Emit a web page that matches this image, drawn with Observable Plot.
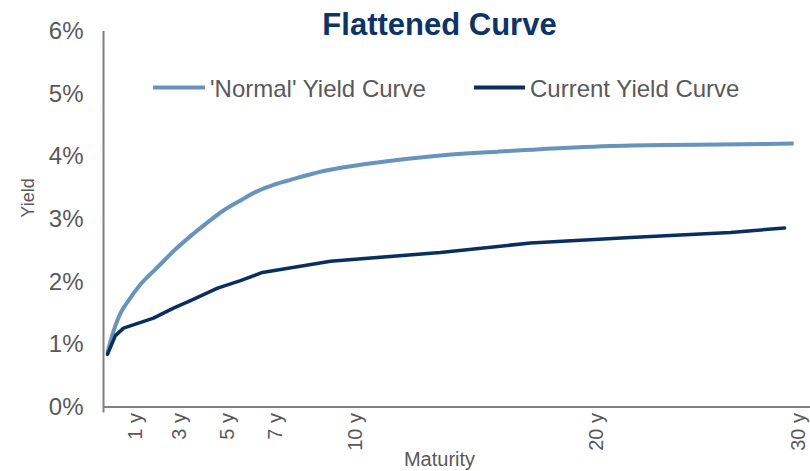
<!DOCTYPE html>
<html>
<head>
<meta charset="utf-8">
<script src="https://cdn.jsdelivr.net/npm/d3@7"></script>
<script src="https://cdn.jsdelivr.net/npm/@observablehq/plot@0.6"></script>
<style>
  html, body { margin: 0; padding: 0; background: #fff; }
  #wrap { position: relative; width: 810px; height: 471px; overflow: hidden; font-family: "Liberation Sans", Arial, sans-serif; }
  #wrap > svg { position: absolute; left: 0; top: 0; }
  #overlay { pointer-events: none; }
</style>
</head>
<body>
<div id="wrap"></div>
<script>
// ---- Data ----
const chartTitle = "Flattened Curve";
const seriesNames = ["'Normal' Yield Curve", "Current Yield Curve"];
const xLabel = "Maturity";
const yLabel = "Yield";

// 'Normal' yield curve: maturity (years) and yield (%)
const normalYears  = [0.17, 0.34, 0.51, 0.73, 1.07, 1.59, 2.31, 3.00, 3.73, 4.46, 5.14, 5.87, 6.60, 7.29, 8.02, 9.43, 11.57, 14.44, 16.89, 19.72, 22.59, 25.46, 29.58];
const normalYields = [0.86, 1.10, 1.30, 1.50, 1.70, 1.96, 2.23, 2.49, 2.73, 2.95, 3.14, 3.30, 3.45, 3.55, 3.63, 3.77, 3.90, 4.02, 4.08, 4.14, 4.18, 4.19, 4.21];

// Current yield curve
const currentYears  = [0.17, 0.51, 0.86, 2.14, 3.0, 3.73, 4.89, 5.87, 6.81, 9.73, 14.44, 18.30, 22.59, 26.87, 29.19];
const currentYields = [0.84, 1.14, 1.26, 1.42, 1.58, 1.70, 1.90, 2.02, 2.15, 2.33, 2.47, 2.62, 2.71, 2.79, 2.86];

// x tick labels and where they sit on the maturity axis (as drawn in the reference)
const xTickLabels = ["1 y", "3 y", "5 y", "7 y", "10 y", "20 y", "30 y"];
const xTickYears  = [1.37, 3.26, 5.31, 7.37, 10.8, 21.13, 29.8];
const yTicks = [0, 1, 2, 3, 4, 5, 6];
const xDomainMax = 30.3;
const yDomainMax = 6;

const colors = ["#6793BC", "#0A2F5F"];
const titleColor = "#0E3466";
const textColor = "#595959";
const axisColor = "#808080";

const normal = normalYears.map((t, i) => ({t, y: normalYields[i]}));
const current = currentYears.map((t, i) => ({t, y: currentYields[i]}));

const W = 810, H = 471;
const mL = 103, mR = 0, mT = 31, mB = 64.5;

const chart = Plot.plot({
  width: W, height: H,
  marginLeft: mL, marginRight: mR, marginTop: mT, marginBottom: mB,
  x: {domain: [0, xDomainMax]},
  y: {domain: [0, yDomainMax]},
  style: {fontFamily: "'Liberation Sans', Arial, sans-serif", color: textColor, background: "transparent", overflow: "visible"},
  marks: [
    Plot.axisY({ticks: yTicks, tickFormat: d => d + "%", tickSize: 0, tickPadding: 20, fontSize: 24, label: null, fill: textColor}),
    Plot.axisX({ticks: [0], tickSize: 6, tickFormat: () => "", label: null, stroke: axisColor, strokeWidth: 2}),
    Plot.axisX({ticks: xTickYears, tickFormat: d => xTickLabels[xTickYears.indexOf(d)], tickSize: 0, tickPadding: 6, tickRotate: -90, fontSize: 20, label: null, fill: textColor}),
    Plot.ruleX([0], {stroke: axisColor, strokeWidth: 2}),
    Plot.ruleY([0], {stroke: axisColor, strokeWidth: 2}),
    Plot.line(normal, {x: "t", y: "y", stroke: colors[0], strokeWidth: 4, curve: "monotone-x", strokeLinecap: "butt"}),
    Plot.line(current, {x: "t", y: "y", stroke: colors[1], strokeWidth: 3.5, curve: "linear"})
  ]
});
document.getElementById("wrap").appendChild(chart);

// ---- Overlay: title, legend, axis titles ----
const ov = d3.select("#wrap").append("svg")
  .attr("id", "overlay")
  .attr("width", W).attr("height", H)
  .attr("font-family", "'Liberation Sans', Arial, sans-serif");

ov.append("text")
  .attr("x", 439.5).attr("y", 35)
  .attr("text-anchor", "middle")
  .attr("font-size", 31).attr("font-weight", "bold")
  .attr("fill", titleColor)
  .text(chartTitle);

const legendItems = [
  {x1: 153, x2: 205, tx: 210},
  {x1: 474, x2: 525, tx: 530}
];
legendItems.forEach((d, i) => {
  ov.append("line")
    .attr("x1", d.x1).attr("x2", d.x2).attr("y1", 87.5).attr("y2", 87.5)
    .attr("stroke", colors[i]).attr("stroke-width", 4);
  ov.append("text")
    .attr("x", d.tx).attr("y", 97)
    .attr("font-size", 24).attr("fill", textColor)
    .text(seriesNames[i]);
});

ov.append("text")
  .attr("transform", "translate(34,198) rotate(-90)")
  .attr("text-anchor", "middle")
  .attr("font-size", 18).attr("fill", textColor)
  .text(yLabel);

ov.append("text")
  .attr("x", 439.5).attr("y", 466)
  .attr("text-anchor", "middle")
  .attr("font-size", 20).attr("fill", textColor)
  .text(xLabel);
</script>
</body>
</html>
